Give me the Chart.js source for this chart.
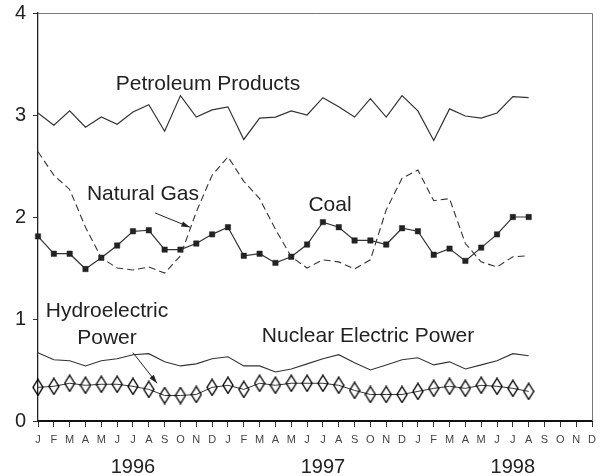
<!DOCTYPE html>
<html>
<head>
<meta charset="utf-8">
<script src="https://cdn.jsdelivr.net/npm/chart.js@4/dist/chart.umd.min.js"></script>
<style>
  body { margin: 0; background: #fff; }
  #wrap { width: 607px; height: 476px; position: relative; }
</style>
</head>
<body>
<div id="wrap"><canvas id="energy"></canvas></div>
<script>
// months Jan 1996 - Dec 1998, data runs to Aug 1998
const monthLetters = ['J','F','M','A','M','J','J','A','S','O','N','D'];
const years = ['1996', '1997', '1998'];
const months = [].concat(monthLetters, monthLetters, monthLetters);

const petroleum = [3.02, 2.90, 3.04, 2.88, 2.98, 2.91, 3.03, 3.10, 2.84, 3.19, 2.98, 3.05,
                   3.08, 2.76, 2.97, 2.98, 3.04, 3.00, 3.17, 3.08, 2.98, 3.16, 2.98, 3.19,
                   3.04, 2.75, 3.06, 2.99, 2.97, 3.02, 3.18, 3.17];
const naturalGas = [2.64, 2.41, 2.27, 1.90, 1.60, 1.50, 1.48, 1.51, 1.45, 1.62, 2.05, 2.41,
                    2.59, 2.35, 2.18, 1.88, 1.61, 1.50, 1.58, 1.56, 1.49, 1.58, 2.07, 2.38,
                    2.46, 2.16, 2.18, 1.74, 1.56, 1.51, 1.61, 1.62];
const coal = [1.81, 1.64, 1.64, 1.49, 1.60, 1.72, 1.86, 1.87, 1.68, 1.68, 1.74, 1.83,
              1.90, 1.62, 1.64, 1.55, 1.61, 1.73, 1.95, 1.90, 1.77, 1.77, 1.73, 1.89,
              1.86, 1.63, 1.69, 1.57, 1.70, 1.83, 2.00, 2.00];
const nuclear = [0.67, 0.60, 0.59, 0.54, 0.59, 0.61, 0.65, 0.66, 0.58, 0.54, 0.56, 0.61,
                 0.63, 0.54, 0.54, 0.48, 0.51, 0.56, 0.61, 0.65, 0.57, 0.50, 0.55, 0.60,
                 0.62, 0.55, 0.58, 0.51, 0.55, 0.59, 0.66, 0.64];
const hydro = [0.33, 0.34, 0.37, 0.35, 0.36, 0.36, 0.34, 0.31, 0.25, 0.25, 0.26, 0.33,
               0.35, 0.31, 0.37, 0.35, 0.37, 0.37, 0.37, 0.35, 0.30, 0.26, 0.26, 0.26,
               0.29, 0.32, 0.34, 0.32, 0.35, 0.34, 0.32, 0.29];

// labels placed in data units (x = month index, y = value)
const notes = [
  { text: 'Petroleum Products', x: 10.74, y: 3.30 },
  { text: 'Natural Gas', x: 6.63, y: 2.22 },
  { text: 'Coal', x: 18.45, y: 2.12 },
  { text: 'Hydroelectric', x: 4.36, y: 1.08 },
  { text: 'Power', x: 4.36, y: 0.81 },
  { text: 'Nuclear Electric Power', x: 20.85, y: 0.83 }
];
const arrows = [
  { from: [7.39, 2.04], to: [9.60, 1.90] },
  { from: [6.0, 0.67], to: [7.52, 0.37] }
];

const ink = '#333';
const font = 'Arial, "Liberation Sans", sans-serif';

// tall open diamond for hydro
const diamond = document.createElement('canvas');
diamond.width = 12; diamond.height = 18;
(function() {
  const c = diamond.getContext('2d');
  c.strokeStyle = '#000';
  c.lineWidth = 1.4;
  c.beginPath();
  c.moveTo(6, 1); c.lineTo(11, 9); c.lineTo(6, 17); c.lineTo(1, 9); c.closePath();
  c.stroke();
})();

const extras = {
  id: 'extras',
  afterDraw(chart) {
    const ctx = chart.ctx, a = chart.chartArea;
    const xs = chart.scales.x, ys = chart.scales.y;
    ctx.save();
    // frame top and right
    ctx.strokeStyle = '#777';
    ctx.lineWidth = 1;
    ctx.beginPath();
    ctx.moveTo(a.left, a.top + 0.5);
    ctx.lineTo(a.right + 0.5, a.top + 0.5);
    ctx.lineTo(a.right + 0.5, a.bottom);
    ctx.stroke();

    ctx.fillStyle = '#222';
    ctx.textAlign = 'center';
    ctx.textBaseline = 'middle';
    ctx.font = '21px ' + font;
    notes.forEach(n => {
      ctx.fillText(n.text, xs.getPixelForValue(n.x), ys.getPixelForValue(n.y));
    });

    ctx.strokeStyle = '#222';
    arrows.forEach(ar => {
      const x1 = xs.getPixelForValue(ar.from[0]), y1 = ys.getPixelForValue(ar.from[1]);
      const x2 = xs.getPixelForValue(ar.to[0]), y2 = ys.getPixelForValue(ar.to[1]);
      const ang = Math.atan2(y2 - y1, x2 - x1);
      ctx.beginPath();
      ctx.moveTo(x1, y1); ctx.lineTo(x2, y2);
      ctx.stroke();
      ctx.beginPath();
      ctx.moveTo(x2, y2);
      ctx.lineTo(x2 - 9 * Math.cos(ang - 0.3), y2 - 9 * Math.sin(ang - 0.3));
      ctx.lineTo(x2 - 9 * Math.cos(ang + 0.3), y2 - 9 * Math.sin(ang + 0.3));
      ctx.closePath();
      ctx.fill();
    });

    // year labels under July of each year
    ctx.font = '20px ' + font;
    years.forEach((yr, i) => {
      ctx.fillText(yr, xs.getPixelForValue(i * 12 + 6), 467);
    });
    ctx.restore();
  }
};

new Chart(document.getElementById('energy'), {
  type: 'line',
  data: {
    labels: months,
    datasets: [
      { label: 'Petroleum Products', data: petroleum, borderColor: ink, borderWidth: 1.2,
        pointRadius: 0, tension: 0 },
      { label: 'Natural Gas', data: naturalGas, borderColor: ink, borderWidth: 1.1,
        borderDash: [7, 4], pointRadius: 0, tension: 0 },
      { label: 'Coal', data: coal, borderColor: ink, borderWidth: 1.2,
        pointStyle: 'rect', pointRadius: 3.8, pointBackgroundColor: '#222',
        pointBorderColor: '#222', pointBorderWidth: 0.5, tension: 0 },
      { label: 'Nuclear Electric Power', data: nuclear, borderColor: ink, borderWidth: 1.1,
        pointRadius: 0, tension: 0 },
      { label: 'Hydroelectric Power', data: hydro, borderColor: ink, borderWidth: 1,
        pointStyle: diamond, pointRadius: 6, tension: 0 }
    ]
  },
  options: {
    responsive: true,
    maintainAspectRatio: false,
    animation: false,
    events: [],
    layout: { padding: { top: 13, right: 15, left: 0, bottom: 0 } },
    plugins: { legend: { display: false }, tooltip: { enabled: false } },
    scales: {
      x: {
        type: 'category',
        offset: false,
        afterFit: s => { s.height = 55; },
        grid: { display: true, drawOnChartArea: false, tickLength: 6, color: ink, offset: false },
        border: { display: true, width: 2, color: '#111' },
        ticks: { autoSkip: false, maxRotation: 0, padding: 6, color: '#444',
                 font: { size: 11, family: font } }
      },
      y: {
        min: 0, max: 4,
        afterFit: s => { s.width = 38; s.paddingTop = 0; s.paddingBottom = 0; },
        grid: { display: true, drawOnChartArea: false, tickLength: 5, color: ink },
        border: { display: true, width: 1.3, color: '#222' },
        ticks: { stepSize: 1, padding: 7, color: '#222', font: { size: 20, family: font } }
      }
    }
  },
  plugins: [extras]
});
</script>
</body>
</html>
